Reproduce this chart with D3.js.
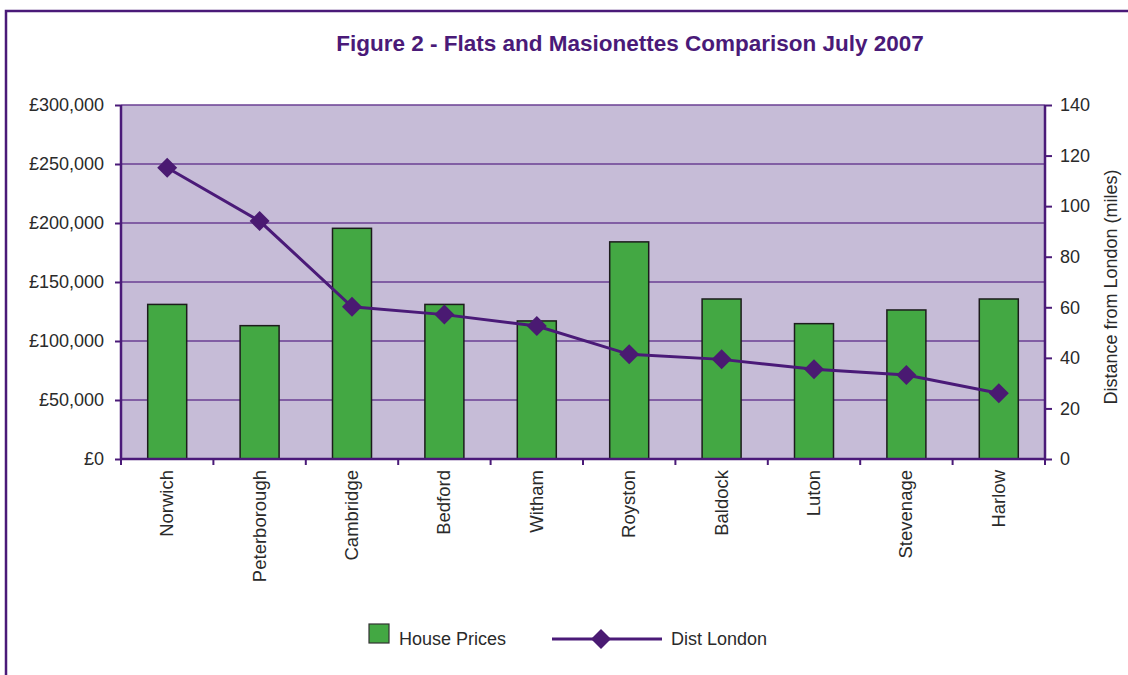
<!DOCTYPE html>
<html><head><meta charset="utf-8">
<script src="https://cdn.jsdelivr.net/npm/d3@7"></script>
<style>
html,body{margin:0;padding:0;background:#fff;}
svg{display:block;font-family:"Liberation Sans",Arial,Helvetica,sans-serif;}
</style></head>
<body><svg id="c" width="1128" height="675"></svg>
<script>
const categories = ["Norwich","Peterborough","Cambridge","Bedford","Witham","Royston","Baldock","Luton","Stevenage","Harlow"];
const housePrices = [131000,113000,195500,131000,117000,184000,135600,114700,126300,135600];
const distLondon = [115.2,94.1,60.2,57.1,52.6,41.4,39.4,35.5,33.2,26.0];
const priceTicks = [0,50000,100000,150000,200000,250000,300000];
const distTicks = [0,20,40,60,80,100,120,140];
const title = "Figure 2 - Flats and Masionettes Comparison July 2007";

const purple = "#4a1a78";
const textCol = "#2a2a2a";
const svg = d3.select("#c");
const m = {left:121, right:1045, top:105, bottom:459};

// frame
svg.append("path").attr("d",`M6,675 V11 H1128`).attr("fill","none").attr("stroke",purple).attr("stroke-width",2.5);

svg.append("text").attr("x",630).attr("y",51).attr("text-anchor","middle")
  .attr("font-weight","bold").attr("font-size",22.5).attr("fill",purple).text(title);

const x = d3.scaleBand().domain(categories).range([m.left,m.right]);
const yL = d3.scaleLinear().domain([0,300000]).range([m.bottom,m.top]);
const yR = d3.scaleLinear().domain([0,140]).range([m.bottom,m.top]);

svg.append("rect").attr("x",m.left).attr("y",m.top).attr("width",m.right-m.left).attr("height",m.bottom-m.top).attr("fill","#c6bcd7");

// gridlines
svg.append("g").selectAll("line").data(priceTicks.slice(1)).join("line")
  .attr("x1",m.left).attr("x2",m.right).attr("y1",d=>yL(d)).attr("y2",d=>yL(d))
  .attr("stroke","#6a3f93").attr("stroke-width",1.5);

// bars
const bw = 39;
svg.append("g").selectAll("rect").data(categories).join("rect")
  .attr("x",(d)=>x(d)+x.bandwidth()/2-bw/2)
  .attr("y",(d,i)=>yL(housePrices[i]))
  .attr("width",bw).attr("height",(d,i)=>yL(0)-yL(housePrices[i]))
  .attr("fill","#43a843").attr("stroke","#1c1c1c").attr("stroke-width",1.5);

// axes
const fmt = d=>"£"+d3.format(",")(d);
const gL = svg.append("g").attr("transform",`translate(${m.left},0)`)
  .call(d3.axisLeft(yL).tickValues(priceTicks).tickFormat(fmt).tickSize(6).tickPadding(11));
const gR = svg.append("g").attr("transform",`translate(${m.right},0)`)
  .call(d3.axisRight(yR).tickValues(distTicks).tickSize(7).tickPadding(8));
const gB = svg.append("g").attr("transform",`translate(0,${m.bottom})`)
  .call(d3.axisBottom(x).tickValues([]).tickSizeOuter(0));
// boundary ticks
svg.append("g").selectAll("line").data(d3.range(categories.length+1)).join("line")
  .attr("x1",i=>m.left+i*x.bandwidth()).attr("x2",i=>m.left+i*x.bandwidth())
  .attr("y1",m.bottom).attr("y2",m.bottom+6).attr("stroke",purple).attr("stroke-width",2);

[gL,gR,gB].forEach(g=>{
  g.selectAll("path.domain").attr("stroke",purple).attr("stroke-width",2.5);
  g.selectAll(".tick line").attr("stroke",purple).attr("stroke-width",2);
  g.selectAll(".tick text").attr("fill",textCol).attr("font-size",18).attr("font-family","Liberation Sans, Arial, sans-serif");
});
gL.select("path.domain").attr("d",`M0,${m.top}V${m.bottom}`);
gR.select("path.domain").attr("d",`M0,${m.top}V${m.bottom}`);
gB.select("path.domain").attr("d",`M${m.left},0H${m.right}`);

// category labels
svg.append("g").selectAll("text").data(categories).join("text")
  .attr("transform",d=>`translate(${x(d)+x.bandwidth()/2+6},470) rotate(-90)`)
  .attr("text-anchor","end").attr("font-size",18.5).attr("fill",textCol).text(d=>d);

// right axis title
svg.append("text").attr("transform",`translate(1117,287) rotate(-90)`).attr("text-anchor","middle")
  .attr("font-size",18).attr("fill",textCol).text("Distance from London (miles)");

// line
const line = d3.line().x((d,i)=>x(categories[i])+x.bandwidth()/2).y(d=>yR(d));
svg.append("path").datum(distLondon).attr("d",line).attr("fill","none").attr("stroke",purple).attr("stroke-width",3);
svg.append("g").selectAll("path").data(distLondon).join("path")
  .attr("d",d3.symbol().type(d3.symbolSquare).size(200))
  .attr("transform",(d,i)=>`translate(${x(categories[i])+x.bandwidth()/2},${yR(d)}) rotate(45)`)
  .attr("fill","#4a1a72");

// legend
const lg = svg.append("g");
lg.append("rect").attr("x",369).attr("y",624).attr("width",20).attr("height",19).attr("fill","#43a843").attr("stroke","#333").attr("stroke-width",1.2);
lg.append("text").attr("x",399).attr("y",645).attr("font-size",18).attr("fill",textCol).text("House Prices");
lg.append("line").attr("x1",552).attr("x2",662).attr("y1",639).attr("y2",639).attr("stroke",purple).attr("stroke-width",3);
lg.append("path").attr("d",d3.symbol().type(d3.symbolSquare).size(200)).attr("transform","translate(601,639) rotate(45)").attr("fill","#4a1a72");
lg.append("text").attr("x",671).attr("y",645).attr("font-size",18).attr("fill",textCol).text("Dist London");
</script></body></html>
